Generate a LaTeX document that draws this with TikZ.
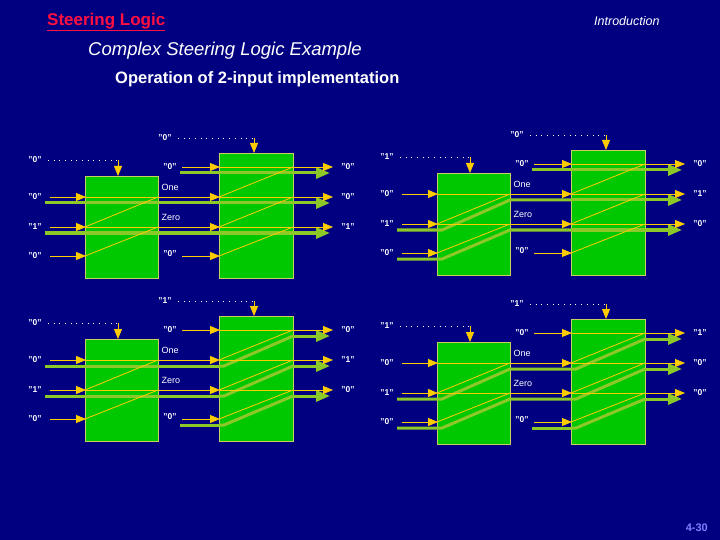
\documentclass[tikz,border=0pt]{standalone}
\usepackage{fontspec}
\setmainfont{Liberation Sans}
\usetikzlibrary{arrows.meta, calc, positioning}
\definecolor{navy}{HTML}{000080}
\definecolor{boxgreen}{HTML}{00C800}
\definecolor{boxedge}{HTML}{C8D060}
\definecolor{sigyellow}{HTML}{FFCC00}
\definecolor{pathgreen}{HTML}{8CC828}
\definecolor{titlered}{HTML}{FF1040}
\definecolor{pagenum}{HTML}{8080FF}
\tikzset{
  steerbox/.style={fill=boxgreen, draw=boxedge, line width=1pt},
  ysig/.style={sigyellow, line width=0.8pt},
  yarrow/.style={ysig, -{Triangle[length=10pt,width=8pt]}},
  gsig/.style={pathgreen, line width=3pt},
  garrow/.style={gsig, -{Triangle[length=14pt,width=11pt]}},
  lbl/.style={white, font=\fontsize{8.5}{10}\selectfont\bfseries, inner sep=0pt},
  dots/.style={white, line width=0.7pt, dash pattern=on 0.7pt off 5pt},
}
% one quadrant: control labels and output labels
\newcommand{\steerframe}[5]{%
  \node[steerbox, minimum width=73pt, minimum height=102pt, anchor=north west, inner sep=0pt] (boxa) at (85,176) {};
  \node[steerbox, minimum width=74pt, minimum height=125pt, anchor=north west, inner sep=0pt] (boxb) at (219,153) {};
  % control inputs
  \node[lbl] (ctla) at (35,160) {"#1"};
  \draw[dots] (ctla.east) ++(6,0) -- (117,160);
  \draw[yarrow] (118,160) -- (boxa.north -| 118,0);
  \node[lbl] (ctlb) at (165,138) {"#2"};
  \draw[dots] (ctlb.east) ++(6,0) -- (253,138);
  \draw[yarrow] (254,138) -- (boxb.north -| 254,0);
  % data labels
  \node[lbl] at (35,197) {"0"};
  \node[lbl] at (35,227) {"1"};
  \node[lbl] at (35,256) {"0"};
  \node[lbl] at (170,167) {"0"};
  \node[lbl] at (170,254) {"0"};
  \node[white, font=\fontsize{9}{10}\selectfont, anchor=west] at (158,187) {One};
  \node[white, font=\fontsize{9}{10}\selectfont, anchor=west] at (158,217) {Zero};
  \node[lbl] at (348,167) {"#3"};
  \node[lbl] at (348,197) {"#4"};
  \node[lbl] at (348,227) {"#5"};
}
% yellow signal lines
\newcommand{\steerwires}{%
  \foreach \r in {197,227,256} \draw[yarrow] (50,\r) -- (86,\r);
  \foreach \r in {197,227} {
    \draw[ysig] (85,\r) -- (158,\r);
    \draw[yarrow] (158,\r) -- (220,\r);
  }
  \foreach \r in {167,256} \draw[yarrow] (182,\r) -- (220,\r);
  \foreach \r in {167,197,227} {
    \draw[ysig] (219,\r) -- (293,\r);
    \draw[yarrow] (293,\r) -- (333,\r);
  }
  \draw[ysig] (85,227) -- (158,197);
  \draw[ysig] (85,256) -- (158,227);
  \draw[ysig] (219,197) -- (293,167);
  \draw[ysig] (219,227) -- (293,197);
  \draw[ysig] (219,256) -- (293,227);
}
% green active paths, #1 and #2 are the two shift controls
\newcommand{\steerpath}[2]{%
  \foreach \k in {1,2} {
    \pgfmathsetmacro\yin{{167,197,227,256}[\k+#1]+6}
    \pgfmathsetmacro\yout{{167,197,227,256}[\k]+6}
    \draw[gsig] (45,\yin) -- (85,\yin) -- (90,\yin) -- (158,\yout) -- (219,\yout);
  }
  \foreach \k in {0,1,2} {
    \pgfmathsetmacro\yin{{167,197,227,256}[\k+#2]+6}
    \pgfmathsetmacro\yout{{167,197,227,256}[\k]+6}
    \draw[gsig] (219,\yin) -- (224,\yin) -- (293,\yout);
    \draw[garrow] (293,\yout) -- (330,\yout);
  }
  \pgfmathsetmacro\yin{{167,197,227,256}[3*#2]+6}
  \draw[gsig] (180,\yin) -- (219,\yin);
}
\begin{document}
\begin{tikzpicture}[x=1pt, y=-1pt]
  \fill[navy] (0,0) rectangle (720,540);
  \useasboundingbox (0,0) rectangle (720,540);

  \node[titlered, font=\fontsize{17}{20}\selectfont\bfseries, anchor=west, inner sep=0pt] (title) at (47,22) {\underline{Steering Logic}};
  \node[white, font=\fontsize{12.5}{14}\selectfont\itshape, anchor=west, inner sep=0pt] (section) at (594,21) {Introduction};
  \node[white, font=\fontsize{18.5}{21}\selectfont\itshape, anchor=west, inner sep=0pt] (head) at (88,51) {Complex Steering Logic Example};
  \node[white, font=\fontsize{16.5}{19}\selectfont\bfseries, anchor=west, inner sep=0pt] (sub) at (115,79) {Operation of 2-input implementation};
  \node[pagenum, font=\fontsize{11}{12}\selectfont\rmfamily\bfseries, anchor=east, inner sep=0pt] (page) at (708,528) {4-30};

  \begin{scope}
    \steerframe{0}{0}{0}{0}{1}
    \steerpath{0}{0}
    \steerwires
  \end{scope}
  \begin{scope}[shift={(352,-3)}]
    \steerframe{1}{0}{0}{1}{0}
    \steerpath{1}{0}
    \steerwires
  \end{scope}
  \begin{scope}[shift={(0,163)}]
    \steerframe{0}{1}{0}{1}{0}
    \steerpath{0}{1}
    \steerwires
  \end{scope}
  \begin{scope}[shift={(352,166)}]
    \steerframe{1}{1}{1}{0}{0}
    \steerpath{1}{1}
    \steerwires
  \end{scope}
\end{tikzpicture}
\end{document}
